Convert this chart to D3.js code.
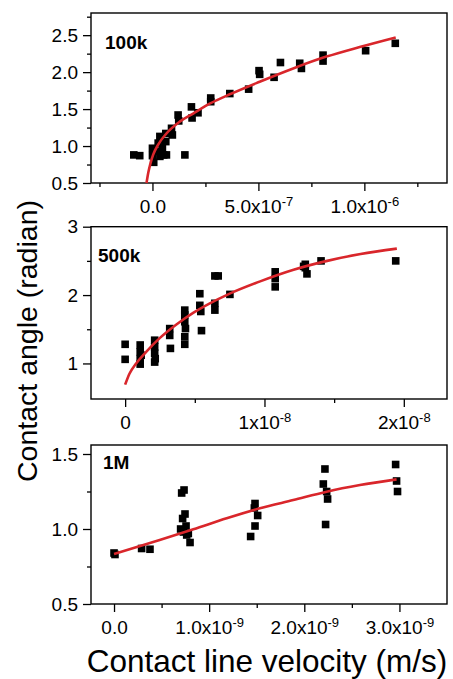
<!DOCTYPE html>
<html><head><meta charset="utf-8">
<script src="https://cdn.jsdelivr.net/npm/d3@7"></script>
<style>
body{margin:0;background:#fff}
svg{display:block}
text{font-family:"Liberation Sans",Arial,sans-serif;fill:#000}
</style>
</head><body>
<svg id="chart" width="453" height="679"></svg>
<script>
// ---------- Panel 1: 100k ----------
const p1Label = "100k";
const p1X = [-0.088,-0.060,0.000,0.000,0.006,0.022,0.027,0.035,0.035,0.047,0.053,0.063,0.063,0.066,0.090,0.094,0.121,0.124,0.153,0.184,0.187,0.215,0.275,0.275,0.365,0.454,0.503,0.506,0.574,0.604,0.695,0.703,0.805,0.805,1.006,1.146].map(v=>v*1e-6);
const p1Y = [0.88,0.87,0.97,0.87,0.78,0.93,1.04,1.13,0.86,0.97,0.88,1.17,1.06,0.88,1.24,1.15,1.42,1.34,0.88,1.53,1.38,1.45,1.65,1.60,1.71,1.77,2.02,1.97,1.93,2.13,2.12,2.05,2.23,2.15,2.29,2.39];
const fit1X = [-0.028,-0.020,-0.009,0.003,0.027,0.066,0.129,0.192,0.275,0.365,0.506,0.664,0.821,0.978,1.148].map(v=>v*1e-6);
const fit1Y = [0.50,0.635,0.77,0.88,1.02,1.17,1.33,1.44,1.58,1.70,1.87,2.05,2.21,2.34,2.47];
const p1XTicks = [0, 5e-7, 1e-6];
const p1XTickLabels = ["0.0", "5.0x10^-7", "1.0x10^-6"];
const p1XMinor = [-2.5e-7, 2.5e-7, 7.5e-7, 1.25e-6];
const p1YTicks = [0.5, 1.0, 1.5, 2.0, 2.5];
const p1YTickLabels = ["0.5", "1.0", "1.5", "2.0", "2.5"];
const p1YMinor = [0.75, 1.25, 1.75, 2.25, 2.75];

// ---------- Panel 2: 500k ----------
const p2Label = "500k";
const p2X = [0,0,0.108,0.108,0.108,0.108,0.115,0.212,0.212,0.212,0.212,0.216,0.320,0.320,0.325,0.428,0.428,0.428,0.433,0.428,0.428,0.536,0.536,0.543,0.548,0.644,0.668,0.644,0.644,0.752,1.077,1.077,1.077,1.293,1.293,1.305,1.281,1.406,1.942].map(v=>v*1e-8);
const p2Y = [1.28,1.06,1.27,1.17,1.07,0.99,1.12,1.34,1.24,1.15,1.02,1.07,1.51,1.41,1.22,1.78,1.71,1.61,1.51,1.39,1.28,2.02,1.85,1.76,1.48,2.28,2.28,1.88,1.78,2.01,2.34,2.24,2.12,2.45,2.40,2.31,2.42,2.50,2.50];
const fit2X = [0,0.031,0.079,0.151,0.248,0.368,0.488,0.608,0.728,0.969,1.209,1.450,1.690,1.950].map(v=>v*1e-8);
const fit2Y = [0.69,0.85,1.00,1.17,1.37,1.57,1.74,1.88,2.00,2.20,2.37,2.50,2.60,2.68];
const p2XTicks = [0, 1e-8, 2e-8];
const p2XTickLabels = ["0", "1x10^-8", "2x10^-8"];
const p2XMinor = [0.5e-8, 1.5e-8];
const p2YTicks = [1, 2, 3];
const p2YTickLabels = ["1", "2", "3"];
const p2YMinor = [1.5, 2.5];

// ---------- Panel 3: 1M ----------
const p3Label = "1M";
const p3X = [0,0.01,0.29,0.378,0.70,0.711,0.721,0.729,0.736,0.746,0.757,0.764,0.781,0.799,1.436,1.475,1.482,1.482,1.51,2.20,2.217,2.224,2.235,2.245,2.96,2.97,2.98].map(v=>v*1e-9);
const p3Y = [0.84,0.83,0.87,0.865,1.00,1.24,1.07,0.98,1.26,1.10,1.02,0.96,0.97,0.91,0.95,1.14,1.17,1.02,1.09,1.30,1.40,1.03,1.25,1.20,1.43,1.32,1.25];
const fit3X = [0,0.48,0.834,1.184,1.534,1.884,2.235,2.585,2.97].map(v=>v*1e-9);
const fit3Y = [0.833,0.927,0.998,1.071,1.138,1.193,1.249,1.293,1.331];
const p3XTicks = [0, 1e-9, 2e-9, 3e-9];
const p3XTickLabels = ["0.0", "1.0x10^-9", "2.0x10^-9", "3.0x10^-9"];
const p3XMinor = [0.5e-9, 1.5e-9, 2.5e-9];
const p3YTicks = [0.5, 1.0, 1.5];
const p3YTickLabels = ["0.5", "1.0", "1.5"];
const p3YMinor = [0.75, 1.25];

const yTitle = "Contact angle (radian)";
const xTitle = "Contact line velocity (m/s)";

const panels = [
  {label:p1Label, px:p1X, py:p1Y, fx:fit1X, fy:fit1Y, xt:p1XTicks, xl:p1XTickLabels, xm:p1XMinor, yt:p1YTicks, yl:p1YTickLabels, ym:p1YMinor,
   xd:[-2.9e-7, 1.39e-6], yd:[0.5, 2.8], l:91, r:447, t:13, b:183, lx:105, ly:49},
  {label:p2Label, px:p2X, py:p2Y, fx:fit2X, fy:fit2Y, xt:p2XTicks, xl:p2XTickLabels, xm:p2XMinor, yt:p2YTicks, yl:p2YTickLabels, ym:p2YMinor,
   xd:[-0.245e-8, 2.31e-8], yd:[0.48, 3], l:91, r:447, t:226.7, b:399, lx:98, ly:262},
  {label:p3Label, px:p3X, py:p3Y, fx:fit3X, fy:fit3Y, xt:p3XTicks, xl:p3XTickLabels, xm:p3XMinor, yt:p3YTicks, yl:p3YTickLabels, ym:p3YMinor,
   xd:[-0.242e-9, 3.5e-9], yd:[0.5, 1.56], l:91, r:447, t:445, b:604, lx:103, ly:469}
];

const svg = d3.select("#chart");
const RED = "#d9262b";
const FS = 19;

function styleAxis(g){
  g.select(".domain").remove();
  g.selectAll("line").attr("stroke","#000").attr("stroke-width",1.3);
  g.attr("font-family",null).attr("font-size",null);
  g.selectAll("text").attr("font-size",FS).attr("fill","#000");
}

panels.forEach(p=>{
  const x = d3.scaleLinear().domain(p.xd).range([p.l, p.r]);
  const y = d3.scaleLinear().domain(p.yd).range([p.b, p.t]);
  const g = svg.append("g");

  // minor ticks
  g.append("g").attr("transform",`translate(0,${p.b})`)
    .call(d3.axisBottom(x).tickValues(p.xm).tickSize(4).tickFormat(""))
    .call(styleAxis);
  g.append("g").attr("transform",`translate(${p.l},0)`)
    .call(d3.axisLeft(y).tickValues(p.ym).tickSize(4).tickFormat(""))
    .call(styleAxis);

  // major ticks
  const gx = g.append("g").attr("transform",`translate(0,${p.b})`)
    .call(d3.axisBottom(x).tickValues(p.xt).tickSize(8).tickPadding(9).tickFormat((d,i)=>p.xl[i]))
    .call(styleAxis);
  gx.selectAll("text").each(function(d,i){
    const parts = p.xl[i].split("^");
    const t = d3.select(this);
    t.text(parts[0]);
    if(parts[1]) t.append("tspan").attr("dy","-0.55em").attr("font-size",13).text(parts[1]);
  });
  g.append("g").attr("transform",`translate(${p.l},0)`)
    .call(d3.axisLeft(y).tickValues(p.yt).tickSize(8).tickPadding(5).tickFormat((d,i)=>p.yl[i]))
    .call(styleAxis);

  // frame
  g.append("rect").attr("x",p.l).attr("y",p.t).attr("width",p.r-p.l).attr("height",p.b-p.t)
    .attr("fill","none").attr("stroke","#000").attr("stroke-width",1.4);

  // points
  const pts = p.px.map((v,i)=>[v,p.py[i]]);
  g.append("g").selectAll("rect").data(pts).join("rect")
    .attr("x",d=>x(d[0])-3.8).attr("y",d=>y(d[1])-3.8)
    .attr("width",7.6).attr("height",7.6).attr("fill","#000");

  // fit curve
  const fit = p.fx.map((v,i)=>[v,p.fy[i]]);
  g.append("path").datum(fit)
    .attr("d", d3.line().x(d=>x(d[0])).y(d=>y(d[1])).curve(d3.curveMonotoneX))
    .attr("fill","none").attr("stroke",RED).attr("stroke-width",2.6);

  // panel label
  g.append("text").attr("x",p.lx).attr("y",p.ly).attr("font-size",19).attr("font-weight","bold").text(p.label);
});

svg.append("text").attr("transform","translate(37,341) rotate(-90)")
  .attr("text-anchor","middle").attr("font-size",28.5).text(yTitle);
svg.append("text").attr("x",267).attr("y",672)
  .attr("text-anchor","middle").attr("font-size",31.5).text(xTitle);
</script>
</body></html>
